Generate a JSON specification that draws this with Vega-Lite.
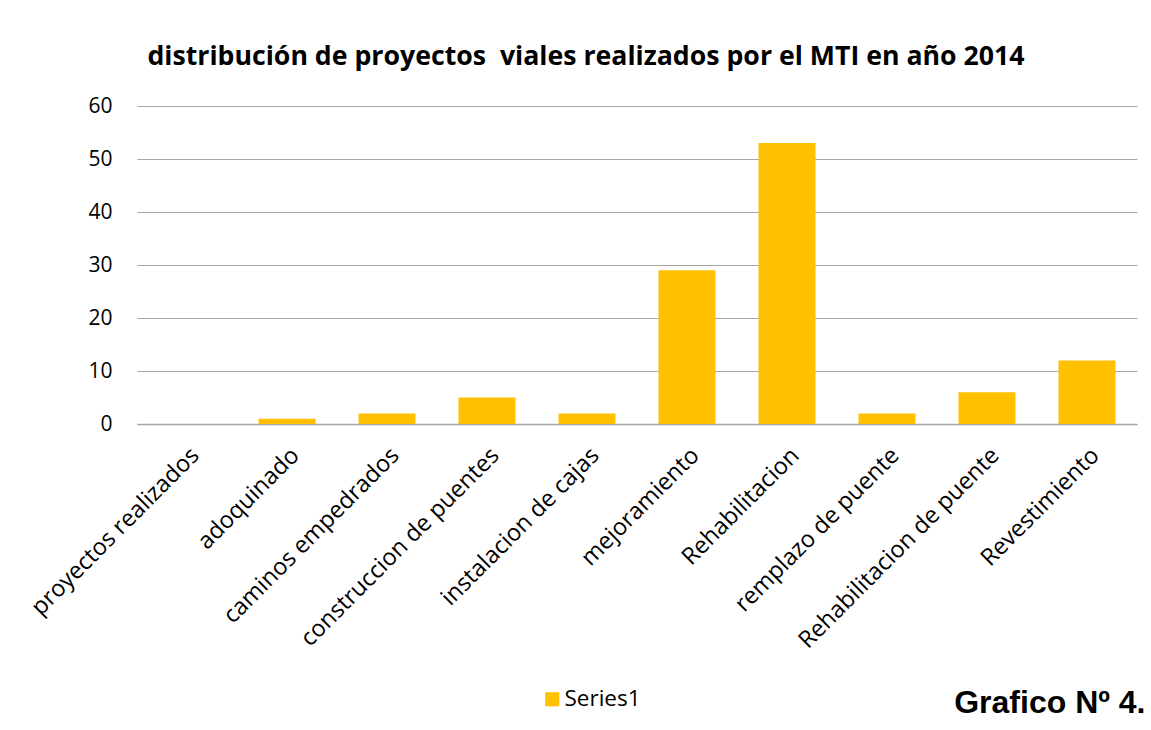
{
  "$schema": "https://vega.github.io/schema/vega-lite/v6.json",
  "width": 1000,
  "height": 318,
  "autosize": {"type": "none"},
  "padding": {"left": 137, "top": 106, "right": 14, "bottom": 306},
  "background": "white",
  "title": {
    "text": "distribución de proyectos \u00a0viales realizados por el MTI en año 2014",
    "font": "Open Sans",
    "fontSize": 26.7,
    "fontWeight": "bold",
    "color": "#000000",
    "anchor": "middle",
    "dx": -51,
    "offset": 24
  },
  "data": {
    "values": [
      {"categoria": "proyectos realizados", "valor": 0, "serie": "Series1"},
      {"categoria": "adoquinado", "valor": 1, "serie": "Series1"},
      {"categoria": "caminos empedrados", "valor": 2, "serie": "Series1"},
      {"categoria": "construccion de puentes", "valor": 5, "serie": "Series1"},
      {"categoria": "instalacion de cajas", "valor": 2, "serie": "Series1"},
      {"categoria": "mejoramiento", "valor": 29, "serie": "Series1"},
      {"categoria": "Rehabilitacion", "valor": 53, "serie": "Series1"},
      {"categoria": "remplazo de puente", "valor": 2, "serie": "Series1"},
      {"categoria": "Rehabilitacion de puente", "valor": 6, "serie": "Series1"},
      {"categoria": "Revestimiento", "valor": 12, "serie": "Series1"}
    ]
  },
  "mark": {"type": "bar"},
  "encoding": {
    "x": {
      "field": "categoria",
      "type": "nominal",
      "sort": null,
      "scale": {"paddingInner": 0.43, "paddingOuter": 0.215},
      "axis": {
        "title": "Grafico Nº 4.",
        "titleFont": "Liberation Sans",
        "titleFontSize": 32,
        "titleFontWeight": "bold",
        "titleColor": "#000000",
        "titleAnchor": "end",
        "titleAlign": "right",
        "titleBaseline": "alphabetic",
        "titleX": 1008,
        "titleY": 288,
        "labelAngle": -45,
        "labelFont": "Open Sans",
        "labelFontSize": 23.5,
        "labelColor": "#000000",
        "labelPadding": 19,
        "labelDx": -8,
        "labelDy": -4,
        "labelLimit": 400,
        "ticks": false,
        "domainColor": "#a6a6a6",
        "domainWidth": 1.3
      }
    },
    "y": {
      "field": "valor",
      "type": "quantitative",
      "scale": {"domain": [0, 60]},
      "axis": {
        "title": null,
        "values": [0, 10, 20, 30, 40, 50, 60],
        "labelFont": "Open Sans",
        "labelFontSize": 21,
        "labelColor": "#000000",
        "labelPadding": 25,
        "ticks": false,
        "domain": false,
        "gridColor": "#a6a6a6",
        "gridWidth": 1.2
      }
    },
    "color": {
      "field": "serie",
      "type": "nominal",
      "scale": {"range": ["#FFC000"]},
      "legend": {
        "title": null,
        "orient": "none",
        "legendX": 404,
        "legendY": 582,
        "symbolType": "square",
        "symbolSize": 200,
        "symbolStrokeWidth": 0,
        "labelFont": "Open Sans",
        "labelFontSize": 22.5,
        "labelColor": "#000000",
        "labelOffset": 1
      }
    }
  },
  "config": {
    "view": {"stroke": null}
  }
}
